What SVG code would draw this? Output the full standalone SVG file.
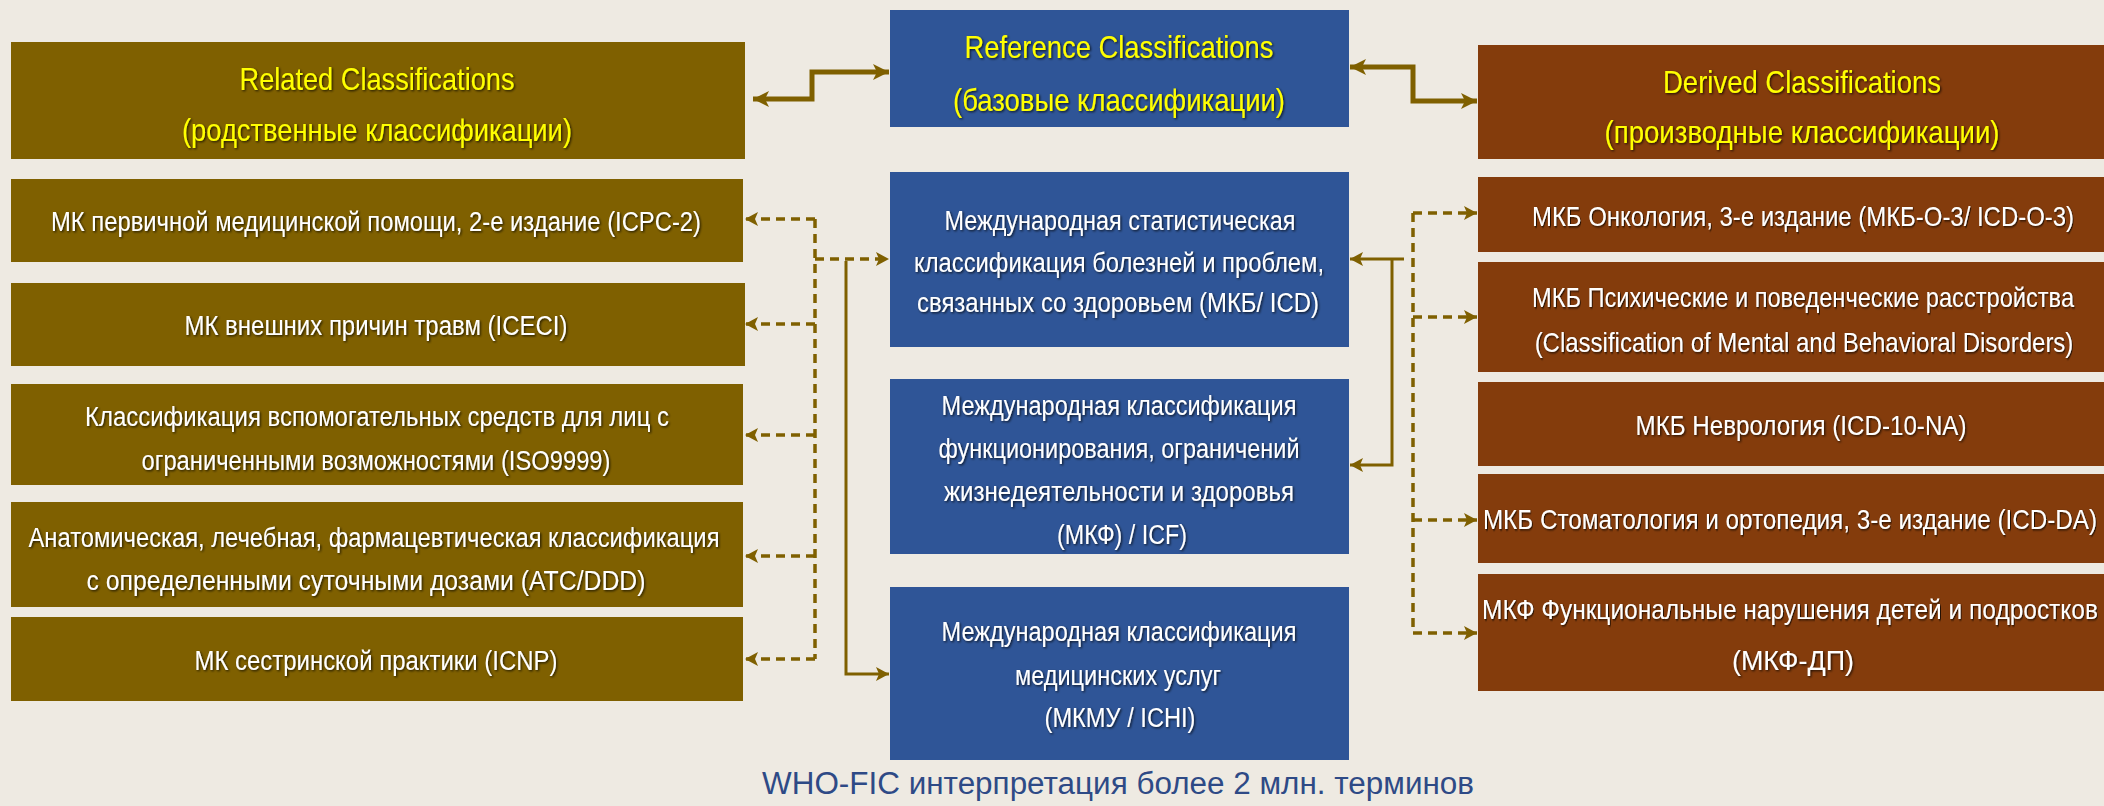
<svg xmlns="http://www.w3.org/2000/svg" width="2104" height="806" viewBox="0 0 2104 806">
<style>
text{font-family:"Liberation Sans Narrow","Liberation Sans",Arial,sans-serif;text-anchor:middle;filter:url(#sh)}
.hd{font-size:32px;fill:#ffff00}
.tx{font-size:27px;fill:#ffffff}
.ft{font-size:31px;fill:#2e4a86;filter:none}
.rel{fill:#7f6000}
.ref{fill:#2f5597}
.der{fill:#843c0c}
.c{fill:none;stroke:#7f6000}
.thick{stroke-width:5}
.sol{stroke-width:3}
.dash{stroke-width:3.5;stroke-dasharray:9 6}
</style>
<defs>
<filter id="sh" x="-5%" y="-30%" width="110%" height="160%">
<feDropShadow dx="1.2" dy="1.2" stdDeviation="0.8" flood-color="#000" flood-opacity="0.75"/>
</filter>
<marker id="ab" markerUnits="userSpaceOnUse" markerWidth="18" markerHeight="18" refX="16" refY="9" orient="auto-start-reverse">
<path d="M0,1 L16,9 L0,17 L4,9 z" fill="#7f6000"/>
</marker>
<marker id="as" markerUnits="userSpaceOnUse" markerWidth="14" markerHeight="14" refX="13" refY="7" orient="auto-start-reverse">
<path d="M0,0 L13,7 L0,14 L3,7 z" fill="#7f6000"/>
</marker>
</defs>
<rect x="0" y="0" width="2104" height="806" fill="#eeeae2"/>

<g id="connectors">
<path class="c thick" d="M753,99 H812 V72 H889" marker-start="url(#ab)" marker-end="url(#ab)"/>
<path class="c thick" d="M1350,67 H1413 V101 H1477" marker-start="url(#ab)" marker-end="url(#ab)"/>
<path class="c dash" d="M815,219 V659"/>
<path class="c dash" d="M815,219 H745" marker-end="url(#as)"/>
<path class="c dash" d="M815,324 H745" marker-end="url(#as)"/>
<path class="c dash" d="M815,435 H745" marker-end="url(#as)"/>
<path class="c dash" d="M815,556 H745" marker-end="url(#as)"/>
<path class="c dash" d="M815,659 H745" marker-end="url(#as)"/>
<path class="c dash" d="M815,259 H889" marker-end="url(#as)"/>
<path class="c sol" d="M846,261 V674 H889" marker-end="url(#as)"/>
<path class="c dash" d="M1413,213 V633"/>
<path class="c dash" d="M1413,213 H1477" marker-end="url(#as)"/>
<path class="c dash" d="M1413,317 H1477" marker-end="url(#as)"/>
<path class="c dash" d="M1413,520 H1477" marker-end="url(#as)"/>
<path class="c dash" d="M1413,633 H1477" marker-end="url(#as)"/>
<path class="c sol" d="M1404,259 H1350" marker-end="url(#as)"/>
<path class="c sol" d="M1392,259 V465 H1350" marker-end="url(#as)"/>
</g>

<g id="related-header"><rect class="rel" x="11" y="42" width="734" height="117"/>
<text class="hd" x="377" y="90" textLength="275" lengthAdjust="spacingAndGlyphs">Related Classifications</text>
<text class="hd" x="377" y="141" textLength="390" lengthAdjust="spacingAndGlyphs">(родственные классификации)</text></g>
<g id="icpc"><rect class="rel" x="11" y="179" width="732" height="83"/>
<text class="tx" x="376" y="231" textLength="650" lengthAdjust="spacingAndGlyphs">МК первичной медицинской помощи, 2-е издание (ICPC-2)</text></g>
<g id="iceci"><rect class="rel" x="11" y="283" width="734" height="83"/>
<text class="tx" x="376" y="335" textLength="383" lengthAdjust="spacingAndGlyphs">МК внешних причин травм (ICECI)</text></g>
<g id="iso"><rect class="rel" x="11" y="384" width="732" height="101"/>
<text class="tx" x="377" y="426" textLength="584" lengthAdjust="spacingAndGlyphs">Классификация вспомогательных средств для лиц с</text>
<text class="tx" x="376" y="470" textLength="469" lengthAdjust="spacingAndGlyphs">ограниченными возможностями (ISO9999)</text></g>
<g id="atc"><rect class="rel" x="11" y="502" width="732" height="105"/>
<text class="tx" x="374" y="547" textLength="691" lengthAdjust="spacingAndGlyphs">Анатомическая, лечебная, фармацевтическая классификация</text>
<text class="tx" x="366" y="590" textLength="559" lengthAdjust="spacingAndGlyphs">с определенными суточными дозами (АТС/DDD)</text></g>
<g id="icnp"><rect class="rel" x="11" y="617" width="732" height="84"/>
<text class="tx" x="376" y="670" textLength="363" lengthAdjust="spacingAndGlyphs">МК сестринской практики (ICNP)</text></g>

<g id="reference-header"><rect class="ref" x="890" y="10" width="459" height="117"/>
<text class="hd" x="1119" y="58" textLength="309" lengthAdjust="spacingAndGlyphs">Reference Classifications</text>
<text class="hd" x="1119" y="111" textLength="332" lengthAdjust="spacingAndGlyphs">(базовые классификации)</text></g>
<g id="icd"><rect class="ref" x="890" y="172" width="459" height="175"/>
<text class="tx" x="1120" y="230" textLength="351" lengthAdjust="spacingAndGlyphs">Международная статистическая</text>
<text class="tx" x="1119" y="272" textLength="410" lengthAdjust="spacingAndGlyphs">классификация болезней и проблем,</text>
<text class="tx" x="1118" y="312" textLength="402" lengthAdjust="spacingAndGlyphs">связанных со здоровьем (МКБ/ ICD)</text></g>
<g id="icf"><rect class="ref" x="890" y="379" width="459" height="175"/>
<text class="tx" x="1119" y="415" textLength="355" lengthAdjust="spacingAndGlyphs">Международная классификация</text>
<text class="tx" x="1119" y="458" textLength="361" lengthAdjust="spacingAndGlyphs">функционирования, ограничений</text>
<text class="tx" x="1119" y="501" textLength="350" lengthAdjust="spacingAndGlyphs">жизнедеятельности и здоровья</text>
<text class="tx" x="1122" y="544" textLength="130" lengthAdjust="spacingAndGlyphs">(МКФ) / ICF)</text></g>
<g id="ichi"><rect class="ref" x="890" y="587" width="459" height="173"/>
<text class="tx" x="1119" y="641" textLength="355" lengthAdjust="spacingAndGlyphs">Международная классификация</text>
<text class="tx" x="1118" y="685" textLength="206" lengthAdjust="spacingAndGlyphs">медицинских услуг</text>
<text class="tx" x="1120" y="727" textLength="151" lengthAdjust="spacingAndGlyphs">(МКМУ / ICHI)</text></g>

<g id="derived-header"><rect class="der" x="1478" y="45" width="626" height="114"/>
<text class="hd" x="1802" y="93" textLength="278" lengthAdjust="spacingAndGlyphs">Derived Classifications</text>
<text class="hd" x="1802" y="143" textLength="395" lengthAdjust="spacingAndGlyphs">(производные классификации)</text></g>
<g id="icdo3"><rect class="der" x="1478" y="177" width="626" height="75"/>
<text class="tx" transform="translate(1803,226) scale(0.82,1)" x="0" y="0" textLength="661" lengthAdjust="spacingAndGlyphs">МКБ Онкология, 3-е издание (МКБ-О-3/ ICD-O-3)</text></g>
<g id="mental"><rect class="der" x="1478" y="262" width="626" height="110"/>
<text class="tx" transform="translate(1803,307) scale(0.82,1)" x="0" y="0" textLength="661" lengthAdjust="spacingAndGlyphs">МКБ Психические и поведенческие расстройства</text>
<text class="tx" transform="translate(1804,352) scale(0.82,1)" x="0" y="0" textLength="657" lengthAdjust="spacingAndGlyphs">(Classification of Mental and Behavioral Disorders)</text></g>
<g id="neuro"><rect class="der" x="1478" y="382" width="626" height="84"/>
<text class="tx" x="1801" y="435" textLength="331" lengthAdjust="spacingAndGlyphs">МКБ Неврология (ICD-10-NA)</text></g>
<g id="dental"><rect class="der" x="1478" y="474" width="626" height="89"/>
<text class="tx" transform="translate(1790,529) scale(0.82,1)" x="0" y="0" textLength="749" lengthAdjust="spacingAndGlyphs">МКБ Стоматология и ортопедия, 3-е издание (ICD-DA)</text></g>
<g id="icfcy"><rect class="der" x="1478" y="574" width="626" height="117"/>
<text class="tx" transform="translate(1790,619) scale(0.82,1)" x="0" y="0" textLength="751" lengthAdjust="spacingAndGlyphs">МКФ Функциональные нарушения детей и подростков</text>
<text class="tx" x="1793" y="670" textLength="122" lengthAdjust="spacingAndGlyphs">(МКФ-ДП)</text></g>

<text id="footer" class="ft" x="1118" y="794" textLength="712" lengthAdjust="spacingAndGlyphs">WHO-FIC интерпретация более 2 млн. терминов</text>
</svg>
